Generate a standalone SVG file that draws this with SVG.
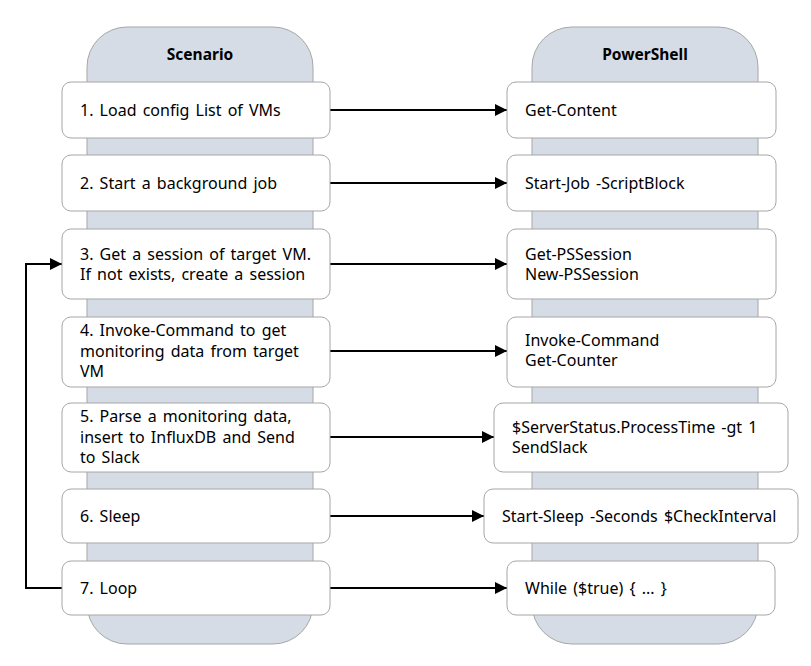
<svg xmlns="http://www.w3.org/2000/svg" width="811" height="666" viewBox="0 0 811 666">
<defs>
<style>
.lane{fill:#d6dce5;stroke:#a6a6a6;stroke-width:1}
.node{fill:#ffffff;stroke:#a6a6a6;stroke-width:1}
text{font-family:"Noto Sans","Open Sans",sans-serif;font-size:16px;word-spacing:2px;fill:#000}
.hdr{font-weight:bold;text-anchor:middle;font-size:15.5px;word-spacing:0}
.conn{fill:none;stroke:#000;stroke-width:2}
</style>
<marker id="arr" viewBox="0 0 10 10" refX="10" refY="5" markerWidth="6" markerHeight="6" markerUnits="strokeWidth" orient="auto">
<path d="M0,0 L10,5 L0,10 z" fill="#000"/>
</marker>
</defs>
<g id="lane-scenario">
<rect class="lane" x="87" y="27" width="226" height="617" rx="40" ry="40"/>
<text class="hdr" x="200" y="60">Scenario</text>
</g>
<g id="lane-powershell">
<rect class="lane" x="532" y="27" width="226" height="617" rx="40" ry="40"/>
<text class="hdr" x="645" y="60">PowerShell</text>
</g>
<g id="connectors">
<line class="conn" x1="330" y1="110" x2="507" y2="110" marker-end="url(#arr)"/>
<line class="conn" x1="330" y1="183" x2="507" y2="183" marker-end="url(#arr)"/>
<line class="conn" x1="330" y1="264" x2="507" y2="264" marker-end="url(#arr)"/>
<line class="conn" x1="330" y1="351" x2="507" y2="351" marker-end="url(#arr)"/>
<line class="conn" x1="330" y1="437" x2="494" y2="437" marker-end="url(#arr)"/>
<line class="conn" x1="330" y1="516" x2="484" y2="516" marker-end="url(#arr)"/>
<line class="conn" x1="330" y1="588" x2="507" y2="588" marker-end="url(#arr)"/>
<polyline class="conn" points="62,588 26,588 26,264 62,264" marker-end="url(#arr)"/>
</g>
<g id="s1"><rect class="node" x="62" y="82" width="268" height="56" rx="9"/><text x="80" y="116">1. Load config List of VMs</text></g>
<g id="s2"><rect class="node" x="62" y="155" width="268" height="56" rx="9"/><text x="80" y="189">2. Start a background job</text></g>
<g id="s3"><rect class="node" x="62" y="229" width="268" height="70" rx="9"/><text x="80" y="260">3. Get a session of target VM.</text><text x="80" y="280">If not exists, create a session</text></g>
<g id="s4"><rect class="node" x="62" y="317" width="268" height="70" rx="9"/><text x="80" y="336">4. Invoke-Command to get</text><text x="80" y="357">monitoring data from target</text><text x="80" y="377">VM</text></g>
<g id="s5"><rect class="node" x="62" y="403" width="268" height="69" rx="9"/><text x="80" y="422">5. Parse a monitoring data,</text><text x="80" y="443">insert to InfluxDB and Send</text><text x="80" y="463">to Slack</text></g>
<g id="s6"><rect class="node" x="62" y="489" width="268" height="54" rx="9"/><text x="80" y="522">6. Sleep</text></g>
<g id="s7"><rect class="node" x="62" y="561" width="268" height="54" rx="9"/><text x="80" y="594">7. Loop</text></g>
<g id="p1"><rect class="node" x="507" y="82" width="269" height="56" rx="9"/><text x="525" y="116">Get-Content</text></g>
<g id="p2"><rect class="node" x="507" y="155" width="269" height="56" rx="9"/><text x="525" y="189">Start-Job -ScriptBlock</text></g>
<g id="p3"><rect class="node" x="507" y="229" width="269" height="70" rx="9"/><text x="525" y="260">Get-PSSession</text><text x="525" y="280">New-PSSession</text></g>
<g id="p4"><rect class="node" x="507" y="317" width="269" height="70" rx="9"/><text x="525" y="346">Invoke-Command</text><text x="525" y="366">Get-Counter</text></g>
<g id="p5"><rect class="node" x="494" y="403" width="294" height="69" rx="9"/><text x="512" y="433">$ServerStatus.ProcessTime -gt 1</text><text x="512" y="453">SendSlack</text></g>
<g id="p6"><rect class="node" x="484" y="489" width="314" height="54" rx="9"/><text x="502" y="522">Start-Sleep -Seconds $CheckInterval</text></g>
<g id="p7"><rect class="node" x="507" y="561" width="268" height="54" rx="9"/><text x="525" y="594">While ($true) { ... }</text></g>
</svg>
